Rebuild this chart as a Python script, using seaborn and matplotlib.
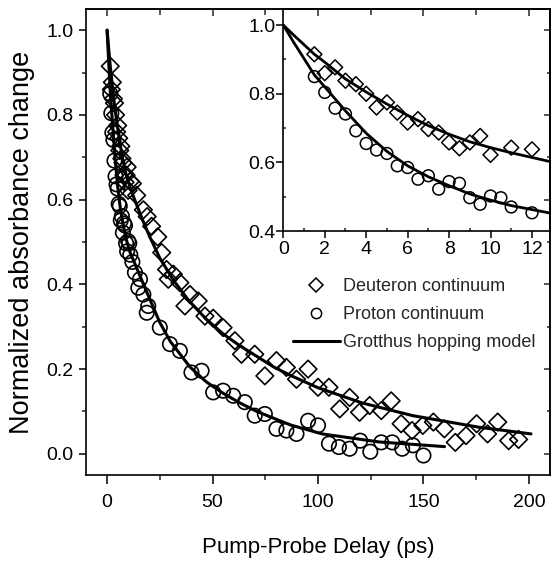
import matplotlib
matplotlib.use("Agg")
import matplotlib.pyplot as plt
import seaborn as sns
from matplotlib.lines import Line2D
from matplotlib.ticker import MultipleLocator, NullFormatter

# ---------------- data ----------------
# early-time data (shown in inset and main)
early_deut_x = [1.5, 2, 2.5, 3, 3.5, 4, 4.5, 5, 5.5, 6, 6.5, 7, 7.5, 8, 8.5, 9, 9.5, 10, 11, 12]
early_deut_y = [0.915, 0.86, 0.877, 0.838, 0.828, 0.80, 0.76, 0.775, 0.745, 0.716, 0.726, 0.697,
                0.687, 0.658, 0.641, 0.658, 0.677, 0.622, 0.643, 0.638]
early_prot_x = [1.5, 2, 2.5, 3, 3.5, 4, 4.5, 5, 5.5, 6, 6.5, 7, 7.5, 8, 8.5, 9, 9.5, 10, 10.5, 11, 12]
early_prot_y = [0.85, 0.804, 0.758, 0.741, 0.692, 0.655, 0.636, 0.626, 0.59, 0.585, 0.551, 0.561,
                0.522, 0.544, 0.539, 0.497, 0.478, 0.502, 0.497, 0.47, 0.453]

# later-time data (main panel)
late_deut_x = [14, 17.2, 19, 21.1, 24, 25.9, 28.2, 29, 31.4, 34.5, 36.9, 39.3, 43.2, 46.4, 50.3, 55,
               60.6, 63.7, 70, 74.8, 80.3, 85, 89.8, 95.3, 100, 105.2, 110.3, 115, 119.7, 124.5,
               130, 134.7, 139.4, 144.6, 149.7, 154.7, 159.9, 165.1, 170.2, 175.2, 180.4, 185.2,
               190.4, 195.1]
late_deut_y = [0.61, 0.576, 0.56, 0.537, 0.512, 0.475, 0.435, 0.412, 0.424, 0.404, 0.349, 0.376,
               0.361, 0.325, 0.32, 0.298, 0.267, 0.235, 0.235, 0.184, 0.22, 0.204, 0.176, 0.2,
               0.157, 0.157, 0.106, 0.133, 0.098, 0.114, 0.102, 0.125, 0.071, 0.055, 0.067, 0.075,
               0.059, 0.027, 0.043, 0.071, 0.047, 0.075, 0.031, 0.034]
late_prot_x = [13.2, 14.8, 15.6, 17.2, 18.8, 19.5, 25, 29.8, 34.5, 40, 44.8, 50.3, 55, 59.8, 65.3,
               70, 74.8, 80.3, 85, 89.8, 95.3, 100, 105.2, 109.9, 115, 120, 124.8, 130, 135.2,
               139.9, 145, 150]
late_prot_y = [0.428, 0.392, 0.412, 0.376, 0.333, 0.349, 0.298, 0.259, 0.243, 0.192, 0.196, 0.145,
               0.149, 0.137, 0.122, 0.09, 0.094, 0.059, 0.055, 0.047, 0.078, 0.067, 0.024, 0.016,
               0.012, 0.031, 0.005, 0.027, 0.027, 0.012, 0.02, -0.004]

# Grotthus hopping model curves
model_deut_x = [0, 0.5, 1.5, 2, 3, 4, 5, 6, 7, 8, 9, 10, 11, 12.9, 17, 20, 25, 31.4, 39, 47, 55,
                63, 79, 87, 100, 121, 145, 176, 201]
model_deut_y = [1.0, 0.971, 0.915, 0.892, 0.843, 0.805, 0.77, 0.737, 0.707, 0.682, 0.66, 0.643,
                0.628, 0.602, 0.55, 0.515, 0.462, 0.41, 0.36, 0.318, 0.283, 0.255, 0.205, 0.185,
                0.156, 0.12, 0.09, 0.063, 0.047]
model_prot_x = [0, 0.5, 1.5, 2, 3, 4, 5, 6, 7, 8, 9, 10, 11, 12.9, 16, 20, 25, 30, 39.3, 47, 55,
                63, 71, 87, 102, 129, 160]
model_prot_y = [1.0, 0.95, 0.855, 0.82, 0.75, 0.685, 0.632, 0.59, 0.558, 0.532, 0.508, 0.49,
                0.474, 0.452, 0.415, 0.368, 0.31, 0.265, 0.205, 0.17, 0.143, 0.12, 0.1, 0.068,
                0.047, 0.028, 0.017]

x_label = "Pump-Probe Delay (ps)"
y_label = "Normalized absorbance change"
legend_labels = ["Deuteron continuum", "Proton continuum", "Grotthus hopping model"]

# ---------------- style ----------------
sns.set_theme(style="ticks")
plt.rcParams["font.family"] = ["Liberation Sans", "DejaVu Sans"]
plt.rcParams["axes.linewidth"] = 1.2

W, H = 552, 567
fig = plt.figure(figsize=(W / 100, H / 100), dpi=100)

# main axes
L, R, T, B = 86, 550, 9, 475
ax = fig.add_axes([L / W, 1 - B / H, (R - L) / W, (B - T) / H])

deut_x = early_deut_x + late_deut_x
deut_y = early_deut_y + late_deut_y
prot_x = early_prot_x + late_prot_x
prot_y = early_prot_y + late_prot_y

sns.scatterplot(x=deut_x, y=deut_y, marker="D", s=80, facecolor="none",
                edgecolor="black", linewidth=1.2, ax=ax, zorder=2)
sns.scatterplot(x=prot_x, y=prot_y, marker="o", s=108, facecolor="none",
                edgecolor="black", linewidth=1.2, ax=ax, zorder=2)
sns.lineplot(x=model_deut_x, y=model_deut_y, color="black", linewidth=2.2,
             sort=False, estimator=None, ax=ax, zorder=3)
sns.lineplot(x=model_prot_x, y=model_prot_y, color="black", linewidth=2.2,
             sort=False, estimator=None, ax=ax, zorder=3)

ax.set_xlim(-10, 210)
ax.set_ylim(-0.05, 1.05)
ax.set_xticks([0, 50, 100, 150, 200])
ax.xaxis.set_minor_locator(MultipleLocator(25))
ax.set_yticks([0.0, 0.2, 0.4, 0.6, 0.8, 1.0])
ax.set_yticklabels(["0.0", "0.2", "0.4", "0.6", "0.8", "1.0"])
ax.yaxis.set_minor_locator(MultipleLocator(0.1))
ax.tick_params(axis="x", which="major", direction="out", length=6.5, width=1.1,
               pad=7, labelsize=14, color="black", labelcolor="black")
ax.tick_params(axis="x", which="minor", direction="out", length=3.4, width=1.1)
ax.tick_params(axis="y", which="major", direction="out", length=4.8, width=1.1,
               pad=4, labelsize=14, color="black", labelcolor="black")
ax.tick_params(axis="y", which="minor", direction="out", length=3.0, width=1.1)
for sp in ax.spines.values():
    sp.set_visible(True)
    sp.set_color("black")
    sp.set_linewidth(1.2)

ax.set_xlabel(x_label, fontsize=16, color="black")
ax.set_ylabel(y_label, fontsize=19.5, color="black")
ax.xaxis.set_label_coords(0.5, -0.133)
ax.yaxis.set_label_coords(-0.11, 0.5)

# mirrored inward ticks (top / right)
top = ax.secondary_xaxis("top")
top.set_xticks([0, 50, 100, 150, 200])
top.xaxis.set_minor_locator(MultipleLocator(25))
top.xaxis.set_major_formatter(NullFormatter())
top.tick_params(which="major", direction="in", length=5, width=1.1)
top.tick_params(which="minor", direction="in", length=4, width=1.1)
right = ax.secondary_yaxis("right")
right.set_yticks([0.0, 0.2, 0.4, 0.6, 0.8, 1.0])
right.yaxis.set_minor_locator(MultipleLocator(0.1))
right.yaxis.set_major_formatter(NullFormatter())
right.tick_params(which="major", direction="in", length=4, width=1.1)
right.tick_params(which="minor", direction="in", length=2.5, width=1.1)

# legend
handles = [
    Line2D([], [], linestyle="none", marker="D", markersize=7.6, markerfacecolor="none",
           markeredgecolor="black", markeredgewidth=1.1),
    Line2D([], [], linestyle="none", marker="o", markersize=7.4, markerfacecolor="none",
           markeredgecolor="black", markeredgewidth=1.1),
    Line2D([], [], color="black", linewidth=2.2),
]
ax.legend(handles, legend_labels, loc="upper left",
          bbox_to_anchor=(293 / W, 1 - 278 / H), bbox_transform=fig.transFigure,
          frameon=False, fontsize=13, borderpad=0, borderaxespad=0,
          handlelength=2.6, handletextpad=0.15, labelspacing=0.62)

# inset
iL, iR, iT, iB = 283.3, 550, 9, 231
axin = fig.add_axes([iL / W, 1 - iB / H, (iR - iL) / W, (iB - iT) / H])
axin.set_facecolor("none")
sns.scatterplot(x=early_deut_x, y=early_deut_y, marker="D", s=58, facecolor="none",
                edgecolor="black", linewidth=1.1, ax=axin, zorder=2)
sns.scatterplot(x=early_prot_x, y=early_prot_y, marker="o", s=72, facecolor="none",
                edgecolor="black", linewidth=1.1, ax=axin, zorder=2)
sns.lineplot(x=model_deut_x, y=model_deut_y, color="black", linewidth=2.0,
             sort=False, estimator=None, ax=axin, zorder=3)
sns.lineplot(x=model_prot_x, y=model_prot_y, color="black", linewidth=2.0,
             sort=False, estimator=None, ax=axin, zorder=3)
axin.set_xlim(0, 12.87)
axin.set_ylim(0.4, 1.047)
axin.set_xticks([0, 2, 4, 6, 8, 10, 12])
axin.xaxis.set_minor_locator(MultipleLocator(1))
axin.set_yticks([0.4, 0.6, 0.8, 1.0])
axin.set_yticklabels(["0.4", "0.6", "0.8", "1.0"])
axin.yaxis.set_minor_locator(MultipleLocator(0.1))
axin.tick_params(which="major", direction="out", length=5, width=1.1, labelsize=14,
                 color="black", labelcolor="black")
axin.tick_params(axis="x", which="major", pad=2)
axin.tick_params(axis="y", which="major", pad=0.6)
axin.tick_params(which="minor", direction="in", length=2.5, width=1.1)
axin.set_xlabel("")
axin.set_ylabel("")
for sp in axin.spines.values():
    sp.set_visible(True)
    sp.set_color("black")
    sp.set_linewidth(1.2)

fig.savefig("out.png", dpi=100)
